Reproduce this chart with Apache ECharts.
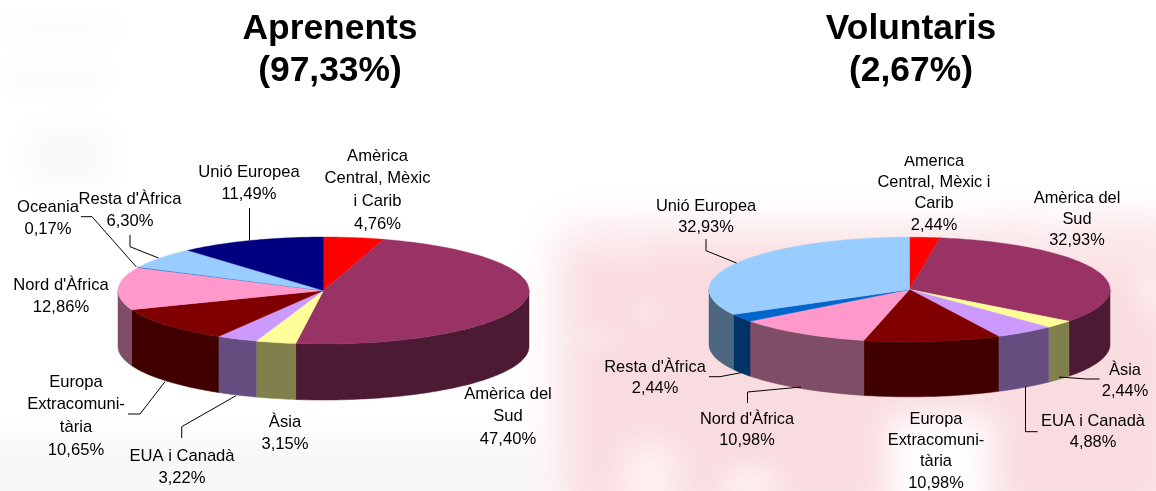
<!DOCTYPE html>
<html><head><meta charset="utf-8">
<style>html,body{margin:0;padding:0;background:#fff}#c{width:1156px;height:491px;filter:blur(0.5px)}</style>
<script src="https://cdn.jsdelivr.net/npm/echarts@6/dist/echarts.min.js"></script>
</head><body><div id="c"></div>
<script>
// ---- data ----
var titleA = 'Aprenents\n(97,33%)';
var titleB = 'Voluntaris\n(2,67%)';
var namesA = ['Amèrica\nCentral, Mèxic\ni Carib','Amèrica del\nSud','Àsia','EUA i Canadà','Europa\nExtracomuni-\ntària',"Nord d'Àfrica",'Oceania',"Resta d'Àfrica",'Unió Europea'];
var valuesA = [4.76,47.40,3.15,3.22,10.65,12.86,0.17,6.30,11.49];
var namesB = ['Amèrica\nCentral, Mèxic i\nCarib','Amèrica del\nSud','Àsia','EUA i Canadà','Europa\nExtracomuni-\ntària',"Nord d'Àfrica","Resta d'Àfrica",'Unió Europea'];
var valuesB = [2.44,32.93,2.44,4.88,10.98,10.98,2.44,32.93];

// ---- styling / layout ----
var topA  = ['#ff0000','#993366','#ffff99','#cc99ff','#800000','#ff99cc','#0066cc','#99ccff','#000080'];
var sideA = ['#800000','#4d1a33','#80804d','#664d80','#400000','#804d66','#003366','#4d6680','#000040'];
var topB  = ['#ff0000','#993366','#ffff99','#cc99ff','#800000','#ff99cc','#0066cc','#99ccff'];
var sideB = ['#800000','#4d1a33','#80804d','#664d80','#400000','#804d66','#003366','#4d6680'];
var geoA = {cx:323.5, cy:290.5, rx:205.5, ry:53.5, d:56};
var geoB = {cx:909.5, cy:289.5, rx:200.5, ry:52.3, d:55};
// label centre x and first-line centre y
var labA = [[377.5,156],[508,394],[285,422],[182,456],[76,382],[61,285],[48,207],[130,199],[249,172]];
var labB = [[934,161],[1077,198],[1125,370],[1093,421],[936,419],[747,419],[655,367],[706,206]];
var leadersA = [
 [[81,216.7],[92,216.7],[136.4,267]],
 [[130,235],[130,246.7],[158.5,258]],
 [[249.5,208],[249.5,240.7]],
 [[128,414],[140,414],[165,381.7]],
 [[181.7,438],[181.7,426.7],[236,395.7]]
];
var leadersB = [
 [[706,239],[706,250.7],[736.5,263]],
 [[709,376.7],[720,376.7],[741,372.7]],
 [[747.5,403],[747.5,392],[801,387]],
 [[1037.6,431.7],[1025.5,431.7],[1025.5,386.7]],
 [[1099.6,379],[1086.7,379],[1059,377]]
];
var FONT = '"Liberation Sans", Arial, sans-serif';

function pct(v){ return v.toFixed(2).replace('.',',') + '%'; }
function arcPts(g,a,b,dy){
  var n = Math.max(2, Math.ceil(Math.abs(b-a)/0.02)), out=[];
  for(var i=0;i<=n;i++){ var t=a+(b-a)*i/n; out.push([g.cx+g.rx*Math.sin(t), g.cy-g.ry*Math.cos(t)+dy]); }
  return out;
}
function spans(vals){
  var tot=vals.reduce(function(s,v){return s+v;},0), c=0;
  return vals.map(function(v){ var a=c/tot*2*Math.PI; c+=v; return [a,c/tot*2*Math.PI]; });
}
function sideSeries(vals,g,cols){
  var sp=spans(vals);
  return {type:'custom',coordinateSystem:'none',z:2,silent:true,data:vals.map(function(v){return [v];}),
    renderItem:function(p){
      var s=sp[p.dataIndex], a=Math.max(s[0],Math.PI/2), b=Math.min(s[1],Math.PI*1.5);
      if(b<=a) return {type:'group',children:[]};
      var pts=arcPts(g,a,b,0).concat(arcPts(g,b,a,g.d));
      return {type:'polygon',shape:{points:pts},style:{fill:cols[p.dataIndex],stroke:cols[p.dataIndex],lineWidth:0.5}};
    }};
}
function topSeries(vals,g,cols){
  var sp=spans(vals);
  return {type:'custom',coordinateSystem:'none',z:3,silent:true,data:vals.map(function(v){return [v];}),
    renderItem:function(p){
      var s=sp[p.dataIndex];
      var pts=[[g.cx,g.cy]].concat(arcPts(g,s[0],s[1],0));
      return {type:'polygon',shape:{points:pts},style:{fill:cols[p.dataIndex],stroke:cols[p.dataIndex],lineWidth:0.4}};
    }};
}
function blob(x,y,w,h,color,blur){
  return {type:'rect',z:0,silent:true,shape:{x:x-4000,y:y,width:w,height:h},
    style:{fill:'#000',shadowColor:color,shadowBlur:blur,shadowOffsetX:4000}};
}
function labels(names,vals,pos,lh,size){
  return names.map(function(n,i){
    return {type:'text',z:6,silent:true,x:pos[i][0],y:pos[i][1]-lh/2,
      style:{text:n+'\n'+pct(vals[i]),font:size+'px '+FONT,fill:'#000',align:'center',verticalAlign:'top',lineHeight:lh}};
  });
}
function leaders(list){
  return list.map(function(pts){
    return {type:'polyline',z:5,silent:true,shape:{points:pts},style:{stroke:'#000',lineWidth:1,fill:'none'}};
  });
}
function title(t,x){
  return {type:'text',z:6,silent:true,x:x,y:8,style:{text:t,font:'bold 35.4px '+FONT,fill:'#000',align:'center',verticalAlign:'top',lineHeight:42}};
}
var P='#f9dce0', P2='#fce9eb', G='#f7f7f7', W='#ffffff';
var bg=[
 // grey smudges, left
 blob(2,24,115,14,G,30), blob(2,70,105,16,G,30), blob(30,128,80,55,'#f8f8f8',34),
 blob(-30,440,575,80,'#f8f7f7',30),
 // pink field
 blob(560,232,620,290,P,44),
 blob(1005,225,170,40,P2,40),
 // light gaps
 blob(888,415,105,100,W,34),
 blob(625,445,50,70,'#fff4f5',34),
 blob(1030,205,40,18,W,30),
 blob(1140,275,25,35,'#fff0f2',24),
 blob(638,305,14,14,W,26),
 blob(578,228,44,8,'#fef0f2',20),
 blob(605,245,45,10,'#fef0f2',20),
 blob(575,335,44,8,'#fef0f2',20),
 blob(725,470,50,30,'#fff3f4',26)
];
var chart=echarts.init(document.getElementById('c'),null,{renderer:'canvas'});
chart.setOption({
  animation:false,
  series:[sideSeries(valuesA,geoA,sideA),topSeries(valuesA,geoA,topA),sideSeries(valuesB,geoB,sideB),topSeries(valuesB,geoB,topB)],
  graphic:{elements:bg.concat(
    leaders(leadersA),leaders(leadersB),
    labels(namesA,valuesA,labA,22.7,16.6),labels(namesB,valuesB,labB,21.4,16.4),
    [{type:'rect',z:7,silent:true,shape:{x:885,y:140,width:100,height:16},style:{fill:'#fff'}},
     title(titleA,330),title(titleB,911)]
  )}
});
</script></body></html>
